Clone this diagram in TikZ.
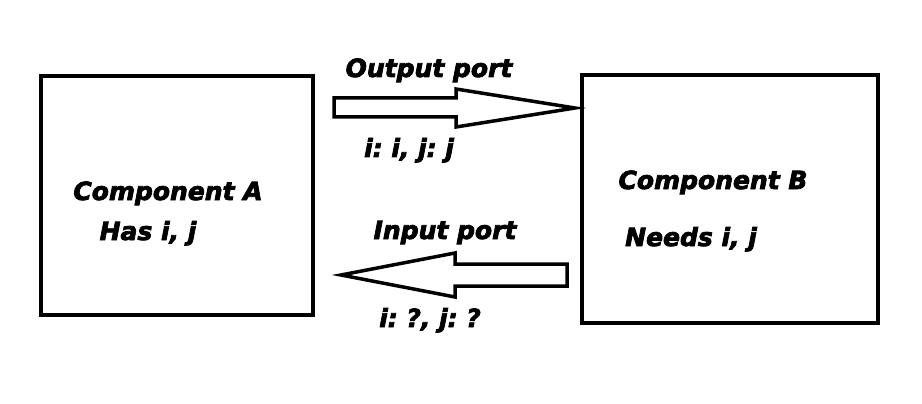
\documentclass[tikz,border=0pt]{standalone}
\usepackage{fontspec}
\setmainfont{DejaVu Sans}
\newfontfamily\heavyfont[FakeBold=3]{DejaVu Sans}
\begin{document}
\begin{tikzpicture}[x=1pt,y=-1pt,
  comp/.style={draw=black,line width=4pt,fill=white,inner sep=0pt},
  lbl/.style={font=\heavyfont\fontsize{25}{28}\selectfont\bfseries\itshape,inner sep=0pt,anchor=base},
  blockarrow/.style={draw=black,line width=3.5pt,fill=white,line join=miter}]
\useasboundingbox (0,0) rectangle (922,404);
\fill[white] (0,0) rectangle (922,404);
% components
\node[comp,minimum width=272pt,minimum height=239pt] (A) at (177,195.5) {};
\node[comp,minimum width=296pt,minimum height=248pt] (B) at (730,199) {};
\node[lbl] (Aname) at (168,200) {Component A};
\node[lbl] (Ahas) at (148,240) {Has i, j};
\node[lbl] (Bname) at (713,189) {Component B};
\node[lbl] (Bneeds) at (691,246) {Needs i, j};
% output arrow (A -> B)
\coordinate (o1) at (334,98);
\coordinate (o2) at (456,98);
\coordinate (o3) at (456,89);
\coordinate (otip) at (575,108);
\coordinate (o4) at (456,127);
\coordinate (o5) at (456,117);
\coordinate (o6) at (334,117);
\draw[blockarrow] (o1) -- (o2) -- (o3) -- (otip) -- (o4) -- (o5) -- (o6) -- cycle;
\node[lbl] (outp) at (429,77) {Output port};
\node[lbl] (outv) at (409,157) {i:\kern-3pt{} i, j:\kern-3pt{} j};
% input arrow (B -> A)
\coordinate (i1) at (567,264);
\coordinate (i2) at (455,264);
\coordinate (i3) at (455,253);
\coordinate (itip) at (341,275);
\coordinate (i4) at (455,297);
\coordinate (i5) at (455,286);
\coordinate (i6) at (567,286);
\draw[blockarrow] (i1) -- (i2) -- (i3) -- (itip) -- (i4) -- (i5) -- (i6) -- cycle;
\node[lbl] (inp) at (445,239) {Input port};
\node[lbl] (inv) at (430,327) {i:\kern-3pt{} ?, j:\kern-3pt{} ?};
\end{tikzpicture}
\end{document}
